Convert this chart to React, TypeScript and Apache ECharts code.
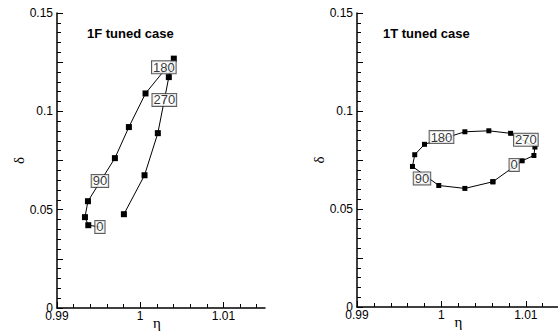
import { useEffect, useRef } from "react";
import * as echarts from "echarts";

// Phase-angle tags placed along each loop
const phaseTags = ["0", "90", "180", "270"];

// 1F tuned case: loop points (η, δ), starting at 0° phase
const etaF = [0.99376, 0.99336, 0.99372, 0.99696, 0.99864, 1.00064, 1.00404, 1.00344, 1.00212, 1.00052, 0.99804];
const deltaF = [0.0421, 0.0462, 0.0543, 0.0762, 0.092, 0.1091, 0.1268, 0.1174, 0.0889, 0.0675, 0.0477];
const tagEtaF = [0.99516, 0.99516, 1.00284, 1.0029];
const tagDeltaF = [0.0412, 0.0646, 0.1224, 0.1058];

// 1T tuned case: closed loop points (η, δ)
const etaT = [1.0061, 1.00278, 0.99969, 0.99657, 0.99684, 0.998, 1.00278, 1.00562, 1.0082, 1.01108, 1.01096, 1.00957];
const deltaT = [0.0639, 0.0605, 0.062, 0.0717, 0.0777, 0.083, 0.0894, 0.0899, 0.0886, 0.0816, 0.0773, 0.0746];
const tagEtaT = [1.00862, 0.9977, 1.00001, 1.01001];
const tagDeltaT = [0.0725, 0.0656, 0.0867, 0.0853];

// Axis ticks
const xMajorTicks = [0.99, 1, 1.01];
const xMinorTicks = [0.992, 0.994, 0.996, 0.998, 1.002, 1.004, 1.006, 1.008, 1.012, 1.014];
const yLabelTicks = [0, 0.05, 0.1, 0.15];
const yMidTicks = [0, 0.025, 0.05, 0.075, 0.1, 0.125, 0.15];
const yMinorTicks = [
  0.005, 0.01, 0.015, 0.02, 0.03, 0.035, 0.04, 0.045, 0.055, 0.06, 0.065, 0.07,
  0.08, 0.085, 0.09, 0.095, 0.105, 0.11, 0.115, 0.12, 0.13, 0.135, 0.14, 0.145,
];

const panelTitles = ["1F tuned case", "1T tuned case"];

const X_MIN = 0.99;
const X_MAX = 1.015;
const Y_MIN = 0;
const Y_MAX = 0.15;

const FONT = "Liberation Sans, Arial, Helvetica, sans-serif";
const GREEK = "Liberation Serif, DejaVu Serif, serif";

function xAxes(gridIndex: number) {
  const lineStyle = { color: "#000", width: 1.5 };
  return [
    {
      type: "value",
      gridIndex,
      min: X_MIN,
      max: X_MAX,
      name: "η",
      nameLocation: "middle",
      nameGap: 7,
      nameMoveOverlap: false,
      nameTextStyle: { fontFamily: GREEK, fontSize: 15, color: "#000", verticalAlign: "top", padding: [0, 8, 0, 0] },
      axisLine: { show: true, onZero: false, lineStyle },
      axisTick: { show: true, inside: true, length: 6, customValues: xMajorTicks, lineStyle: { color: "#000", width: 1 } },
      axisLabel: { show: true, customValues: xMajorTicks, margin: 2, fontFamily: FONT, fontSize: 12, color: "#000", hideOverlap: false },
      splitLine: { show: false },
    },
    {
      type: "value",
      gridIndex,
      min: X_MIN,
      max: X_MAX,
      position: "bottom",
      axisLine: { show: false, onZero: false },
      axisTick: { show: true, inside: true, length: 4, customValues: xMinorTicks, lineStyle: { color: "#000", width: 1 } },
      axisLabel: { show: false },
      splitLine: { show: false },
    },
  ];
}

function yAxes(gridIndex: number) {
  const lineStyle = { color: "#000", width: 1.5 };
  return [
    {
      type: "value",
      gridIndex,
      min: Y_MIN,
      max: Y_MAX,
      name: "δ",
      nameLocation: "middle",
      nameGap: 31,
      nameMoveOverlap: false,
      nameTextStyle: { fontFamily: GREEK, fontSize: 15, color: "#000" },
      axisLine: { show: true, onZero: false, lineStyle },
      axisTick: { show: true, inside: true, length: 6, customValues: yMidTicks, lineStyle: { color: "#000", width: 1 } },
      axisLabel: { show: true, customValues: yLabelTicks, margin: 4, fontFamily: FONT, fontSize: 12, color: "#000", hideOverlap: false },
      splitLine: { show: false },
    },
    {
      type: "value",
      gridIndex,
      min: Y_MIN,
      max: Y_MAX,
      position: "left",
      axisLine: { show: false, onZero: false },
      axisTick: { show: true, inside: true, length: 4, customValues: yMinorTicks, lineStyle: { color: "#000", width: 1 } },
      axisLabel: { show: false },
      splitLine: { show: false },
    },
  ];
}

function loopSeries(
  eta: number[],
  delta: number[],
  axisBase: number,
  closed: boolean,
  leadEta: number | null,
  leadDelta: number | null,
  symbolSize: number
) {
  const pts: any[] = eta.map((e, i) => [e, delta[i]]);
  if (closed) pts.push({ value: [eta[0], delta[0]] });
  if (leadEta !== null && leadDelta !== null) {
    pts.unshift({ value: [leadEta, leadDelta], symbol: "none" });
  }
  return {
    type: "line",
    xAxisIndex: axisBase,
    yAxisIndex: axisBase,
    data: pts,
    symbol: "rect",
    symbolSize,
    showAllSymbol: true,
    itemStyle: { color: "#000" },
    lineStyle: { color: "#000", width: 1 },
    z: 3,
  };
}

function tagSeries(eta: number[], delta: number[], axisBase: number) {
  return {
    type: "scatter",
    xAxisIndex: axisBase,
    yAxisIndex: axisBase,
    data: eta.map((e, i) => ({ value: [e, delta[i]], name: phaseTags[i] })),
    symbol: "rect",
    symbolSize: 1,
    itemStyle: { color: "rgba(0,0,0,0)" },
    label: {
      show: true,
      position: "inside",
      formatter: (p: any) => p.name,
      fontFamily: FONT,
      fontSize: 13,
      color: "#000",
      backgroundColor: "#fff",
      borderColor: "#333",
      borderWidth: 1,
      padding: [0, 1, -1, 1],
      lineHeight: 13,
    },
    z: 5,
  };
}

export default function App() {
  const ref = useRef<HTMLDivElement>(null);

  useEffect(() => {
    if (!ref.current) return;
    const chart = echarts.init(ref.current, undefined, { renderer: "svg" });
    chart.setOption({
      animation: false,
      backgroundColor: "#fff",
      title: [
        {
          text: panelTitles[0],
          left: 82,
          top: 22,
          textStyle: { fontFamily: FONT, fontSize: 13, fontWeight: "bold", color: "#000" },
        },
        {
          text: panelTitles[1],
          left: 378,
          top: 22,
          textStyle: { fontFamily: FONT, fontSize: 13, fontWeight: "bold", color: "#000" },
        },
      ],
      grid: [
        { left: 57, top: 13, width: 208, height: 295, outerBoundsMode: "none" },
        { left: 357, top: 13, width: 211, height: 294, outerBoundsMode: "none" },
      ],
      xAxis: [...xAxes(0), ...xAxes(1)],
      yAxis: [...yAxes(0), ...yAxes(1)],
      series: [
        loopSeries(etaF, deltaF, 0, false, tagEtaF[0], tagDeltaF[0], 6),
        tagSeries(tagEtaF, tagDeltaF, 0),
        loopSeries(etaT, deltaT, 2, true, null, null, 5),
        tagSeries(tagEtaT, tagDeltaT, 2),
      ],
    });
    return () => chart.dispose();
  }, []);

  return (
    <div
      ref={ref}
      style={{ position: "absolute", left: 0, top: 0, width: 558, height: 331, background: "#fff" }}
    />
  );
}
